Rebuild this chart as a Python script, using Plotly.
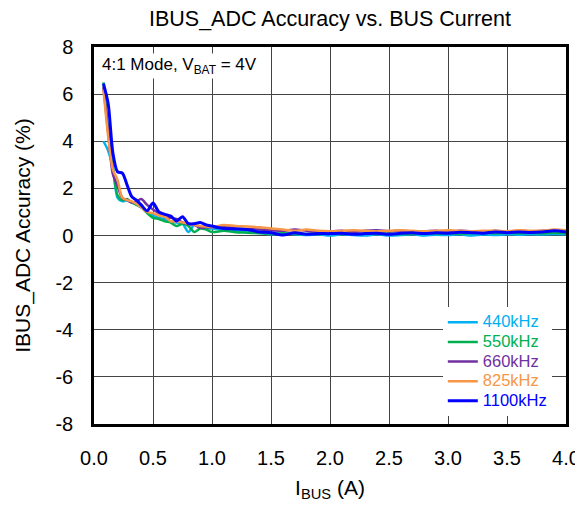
import plotly.graph_objects as go

x = [0.08, 0.12, 0.16, 0.20, 0.24, 0.28, 0.32, 0.36, 0.40, 0.45, 0.50, 0.55, 0.60, 0.65, 0.70,
     0.75, 0.80, 0.85, 0.90, 0.95, 1.0, 1.1, 1.2, 1.3, 1.4, 1.5, 1.6, 1.7, 1.8, 1.9, 2.0,
     2.1, 2.2, 2.3, 2.4, 2.5, 2.6, 2.7, 2.8, 2.9, 3.0, 3.1, 3.2, 3.3, 3.4, 3.5, 3.6, 3.7,
     3.8, 3.9, 4.0]

f440 = [4.0, 3.6, 2.9, 1.6, 1.45, 1.5, 1.4, 1.35, 1.2, 1.0, 0.85, 0.75, 0.7, 0.6, 0.55,
        0.5, 0.15, 0.45, 0.35, 0.3, 0.3, 0.25, 0.2, 0.15, 0.12, 0.05, 0.08, 0.05, 0.02, 0.05, 0.0,
        0.05, 0.02, 0.0, 0.05, 0.0, 0.02, 0.05, 0.0, 0.03, 0.02, 0.05, 0.0, 0.04, 0.02, 0.05, 0.03, 0.05,
        0.04, 0.06, 0.05]
f550 = [6.5, 4.5, 2.9, 1.7, 1.5, 1.55, 1.4, 1.3, 1.2, 0.95, 0.75, 0.7, 0.6, 0.55, 0.4,
        0.5, 0.4, 0.15, 0.3, 0.25, 0.15, 0.2, 0.14, 0.12, 0.1, 0.08, 0.1, 0.08, 0.06, 0.1, 0.08,
        0.1, 0.06, 0.08, 0.1, 0.08, 0.06, 0.08, 0.1, 0.08, 0.1, 0.08, 0.1, 0.12, 0.1, 0.12, 0.1, 0.12,
        0.1, 0.12, 0.1]
f660 = [6.3, 4.4, 2.6, 2.1, 1.6, 1.5, 1.4, 1.45, 1.55, 1.3, 1.1, 0.95, 0.8, 0.75, 0.7,
        0.55, 0.5, 0.45, 0.33, 0.35, 0.35, 0.38, 0.3, 0.28, 0.25, 0.22, 0.2, 0.25, 0.2, 0.15, 0.18,
        0.2, 0.15, 0.2, 0.22, 0.18, 0.2, 0.15, 0.18, 0.2, 0.17, 0.2, 0.18, 0.15, 0.2, 0.17, 0.2, 0.18,
        0.2, 0.22, 0.2]
f825 = [6.2, 4.2, 2.8, 2.35, 1.6, 1.5, 1.45, 1.35, 1.2, 1.0, 0.95, 0.85, 0.8, 0.6, 0.6,
        0.55, 0.5, 0.45, 0.4, 0.38, 0.35, 0.45, 0.4, 0.38, 0.35, 0.3, 0.25, 0.2, 0.25, 0.2, 0.18,
        0.2, 0.22, 0.2, 0.18, 0.2, 0.22, 0.2, 0.18, 0.2, 0.22, 0.2, 0.18, 0.2, 0.2, 0.18, 0.22, 0.2,
        0.2, 0.25, 0.22]
f1100 = [6.45, 5.6, 3.5, 2.7, 2.65, 2.15, 1.65, 1.5, 1.3, 1.05, 1.38, 1.0, 0.9, 0.82, 0.62,
         0.8, 0.5, 0.5, 0.55, 0.45, 0.4, 0.3, 0.28, 0.25, 0.15, 0.12, 0.02, 0.12, 0.05, 0.08, 0.08,
         0.1, 0.05, 0.08, 0.1, 0.05, 0.1, 0.12, 0.08, 0.12, 0.1, 0.14, 0.12, 0.1, 0.15, 0.12, 0.15, 0.13,
         0.15, 0.2, 0.15]

x_ticks = [0.0, 0.5, 1.0, 1.5, 2.0, 2.5, 3.0, 3.5, 4.0]
y_ticks = [-8, -6, -4, -2, 0, 2, 4, 6, 8]

series = [
    ("440kHz", f440, "#00B0F0"),
    ("550kHz", f550, "#00B050"),
    ("660kHz", f660, "#7030A0"),
    ("825kHz", f825, "#F79646"),
    ("1100kHz", f1100, "#0000FF"),
]

fig = go.Figure()
for name, ys, col in series:
    w = 3 if name == "1100kHz" else 2.5
    fig.add_trace(go.Scatter(
        x=x, y=ys, mode="lines", line=dict(color=col, width=w, shape="spline", smoothing=0.8),
        name=f"<span style='color:{col};font-size:16.5px'>{name}</span>"))

# page body has an 8px margin: figure is placed at (8, 8); keep it inside the window
W, H = 575, 494
fig.update_layout(
    width=W, height=H,
    margin=dict(l=86, r=17, t=39, b=78, autoexpand=False),
    paper_bgcolor="white", plot_bgcolor="white",
    font=dict(family="Arial, Liberation Sans, sans-serif", size=20, color="black"),
    title=dict(text="IBUS_ADC Accuracy vs. BUS Current", x=0.5, xanchor="center",
               xref="paper", y=1 - 10 / H, yanchor="middle", font=dict(size=21.5)),
    legend=dict(x=0.739, y=0.02, xanchor="left", yanchor="bottom", bgcolor="white",
                font=dict(size=12.8), tracegroupgap=0, itemwidth=30),
    showlegend=True,
)
fig.update_xaxes(range=[0, 4], tickvals=x_ticks, ticktext=[f"{v:.1f}" for v in x_ticks],
                 showgrid=True, gridcolor="#444", gridwidth=1,
                 showline=True, linecolor="black", linewidth=2.5, mirror=True,
                 zeroline=False, ticks="", ticklabelstandoff=14, automargin=False,
                 tickfont=dict(size=20),
                 title=dict(text="I<sub>BUS</sub> (A)", standoff=36, font=dict(size=21)))
fig.update_yaxes(range=[-8, 8], tickvals=y_ticks, ticktext=[str(v) for v in y_ticks],
                 showgrid=True, gridcolor="#444", gridwidth=1,
                 showline=True, linecolor="black", linewidth=2.5, mirror=True,
                 zeroline=False, ticks="", ticklabelstandoff=14, automargin=False,
                 tickfont=dict(size=20),
                 title=dict(text="IBUS_ADC Accuracy (%)", standoff=20, font=dict(size=21)))
fig.add_annotation(x=0.012, y=0.985, xref="paper", yref="paper", xanchor="left", yanchor="top",
                   text="4:1 Mode, V<sub>BAT</sub> = 4V", showarrow=False,
                   font=dict(size=17), bgcolor="white")
fig.write_html("out.html")
